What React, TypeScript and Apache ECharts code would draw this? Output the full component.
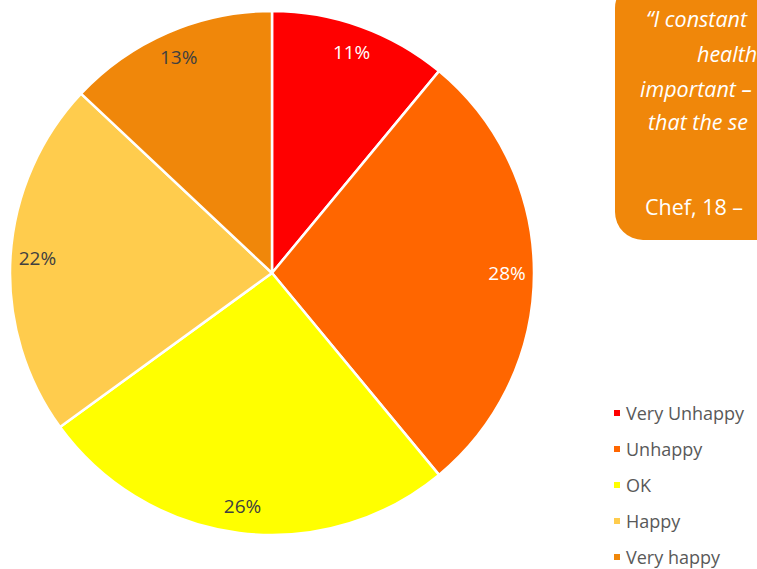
import React, { useEffect, useRef } from "react";
import * as echarts from "echarts";

const categories = ["Very Unhappy", "Unhappy", "OK", "Happy", "Very happy"];
const values = [11, 28, 26, 22, 13];
const colors = ["#FF0000", "#FF6600", "#FFFF00", "#FFCC4D", "#F0870A"];
const labelColors = ["#FFFFFF", "#FFFFFF", "#404040", "#404040", "#404040"];
const quoteLines = ["“I constant", "health", "important –", "that the se"];
const quoteAuthor = "Chef, 18 –";

const FONT = "'Open Sans', 'Noto Sans', sans-serif";

export default function App() {
  const ref = useRef<HTMLDivElement>(null);
  useEffect(() => {
    if (!ref.current) return;
    const chart = echarts.init(ref.current, undefined, { renderer: "svg" });
    const mainData = categories.map((name, i) => ({
      name,
      value: values[i],
      itemStyle: { color: colors[i] },
    }));
    const labelData = categories.map((name, i) => ({
      name,
      value: values[i],
      label: { color: labelColors[i] },
    }));
    const quoteX = [646, 697, 640, 648];
    const quoteY = [18, 53, 88, 121];
    chart.setOption({
      animation: false,
      backgroundColor: "#FFFFFF",
      legend: {
        orient: "vertical",
        left: 612,
        top: 404,
        height: 170,
        padding: 0,
        itemWidth: 8,
        itemHeight: 8,
        itemGap: 18,
        icon: "rect",
        data: categories,
        textStyle: { fontSize: 18, color: "#595959", fontFamily: FONT },
      },
      graphic: [
        {
          type: "rect",
          shape: { x: 615, y: -20, width: 300, height: 260, r: 28 },
          style: { fill: "#F0870A" },
          silent: true,
        },
        ...quoteLines.map((t, i) => ({
          type: "text",
          x: quoteX[i],
          y: quoteY[i],
          style: {
            text: t,
            fill: "#FFFFFF",
            font: `italic 21.5px ${FONT}`,
            textVerticalAlign: "middle",
          },
        })),
        {
          type: "text",
          x: 645,
          y: 206,
          style: {
            text: quoteAuthor,
            fill: "#FFFFFF",
            font: `21.5px ${FONT}`,
            textVerticalAlign: "middle",
          },
        },
      ],
      series: [
        {
          type: "pie",
          center: [272, 273],
          radius: [0, 262],
          startAngle: 90,
          clockwise: true,
          label: { show: false },
          labelLine: { show: false },
          itemStyle: { borderColor: "#FFFFFF", borderWidth: 2.5 },
          emphasis: { disabled: true },
          data: mainData,
        },
        {
          type: "pie",
          center: [272, 273],
          radius: [202, 262],
          startAngle: 90,
          clockwise: true,
          silent: true,
          legendHoverLink: false,
          itemStyle: { color: "rgba(0,0,0,0)", borderWidth: 0 },
          label: {
            show: true,
            position: "inside",
            formatter: "{c}%",
            fontSize: 19,
            fontFamily: FONT,
          },
          labelLine: { show: false },
          emphasis: { disabled: true },
          data: labelData,
        },
      ],
    });
    return () => chart.dispose();
  }, []);
  return (
    <div
      ref={ref}
      style={{ position: "fixed", left: 0, top: 0, width: 757, height: 569 }}
    />
  );
}
